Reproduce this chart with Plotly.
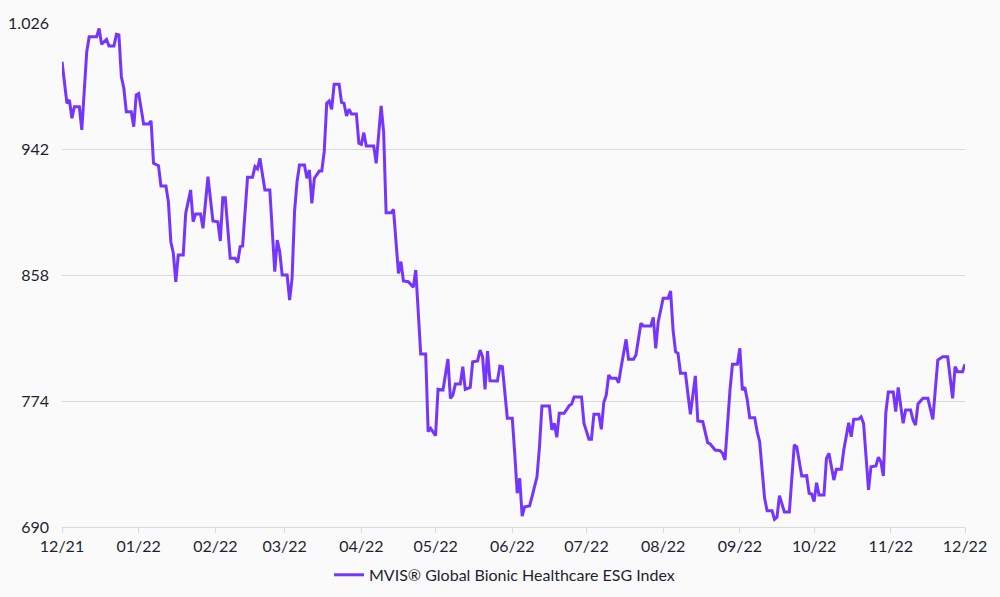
import plotly.graph_objects as go

dates = [
    "2021-12-01", "2021-12-03", "2021-12-04", "2021-12-05", "2021-12-06", "2021-12-08", "2021-12-09",
    "2021-12-11", "2021-12-12", "2021-12-15", "2021-12-16", "2021-12-17", "2021-12-19", "2021-12-20",
    "2021-12-22", "2021-12-23", "2021-12-24", "2021-12-25", "2021-12-26", "2021-12-27", "2021-12-29",
    "2021-12-30", "2021-12-31", "2022-01-01", "2022-01-03", "2022-01-05", "2022-01-06", "2022-01-07",
    "2022-01-09", "2022-01-10", "2022-01-12", "2022-01-13", "2022-01-14", "2022-01-15", "2022-01-16",
    "2022-01-17", "2022-01-19", "2022-01-20", "2022-01-22", "2022-01-23", "2022-01-24", "2022-01-26",
    "2022-01-27", "2022-01-29", "2022-01-31", "2022-02-02", "2022-02-03", "2022-02-04", "2022-02-05",
    "2022-02-07", "2022-02-09", "2022-02-10", "2022-02-11", "2022-02-12", "2022-02-14", "2022-02-16",
    "2022-02-17", "2022-02-18", "2022-02-19", "2022-02-21", "2022-02-23", "2022-02-25", "2022-02-26",
    "2022-02-27", "2022-02-28", "2022-03-02", "2022-03-03", "2022-03-04", "2022-03-05", "2022-03-06",
    "2022-03-07", "2022-03-09", "2022-03-10", "2022-03-11", "2022-03-12", "2022-03-13", "2022-03-15",
    "2022-03-16", "2022-03-17", "2022-03-18", "2022-03-19", "2022-03-20", "2022-03-21", "2022-03-23",
    "2022-03-24", "2022-03-25", "2022-03-26", "2022-03-27", "2022-03-28", "2022-03-30", "2022-03-31",
    "2022-04-01", "2022-04-02", "2022-04-03", "2022-04-06", "2022-04-07", "2022-04-09", "2022-04-10",
    "2022-04-11", "2022-04-13", "2022-04-14", "2022-04-16", "2022-04-17", "2022-04-18", "2022-04-20",
    "2022-04-22", "2022-04-23", "2022-04-24", "2022-04-25", "2022-04-27", "2022-04-28", "2022-04-29",
    "2022-05-01", "2022-05-02", "2022-05-04", "2022-05-06", "2022-05-07", "2022-05-08", "2022-05-09",
    "2022-05-11", "2022-05-12", "2022-05-13", "2022-05-15", "2022-05-16", "2022-05-18", "2022-05-19",
    "2022-05-20", "2022-05-21", "2022-05-22", "2022-05-23", "2022-05-26", "2022-05-27", "2022-05-28",
    "2022-05-30", "2022-06-01", "2022-06-02", "2022-06-03", "2022-06-04", "2022-06-05", "2022-06-06",
    "2022-06-08", "2022-06-09", "2022-06-11", "2022-06-12", "2022-06-13", "2022-06-16", "2022-06-17",
    "2022-06-18", "2022-06-19", "2022-06-20", "2022-06-22", "2022-06-24", "2022-06-25", "2022-06-26",
    "2022-06-29", "2022-06-30", "2022-07-02", "2022-07-03", "2022-07-04", "2022-07-06", "2022-07-07",
    "2022-07-08", "2022-07-09", "2022-07-10", "2022-07-11", "2022-07-13", "2022-07-14", "2022-07-15",
    "2022-07-17", "2022-07-18", "2022-07-20", "2022-07-21", "2022-07-23", "2022-07-24", "2022-07-27",
    "2022-07-28", "2022-07-29", "2022-07-30", "2022-08-01", "2022-08-03", "2022-08-04", "2022-08-05",
    "2022-08-06", "2022-08-07", "2022-08-08", "2022-08-10", "2022-08-11", "2022-08-12", "2022-08-14",
    "2022-08-15", "2022-08-17", "2022-08-18", "2022-08-19", "2022-08-20", "2022-08-22", "2022-08-24",
    "2022-08-25", "2022-08-26", "2022-08-27", "2022-08-28", "2022-08-29", "2022-08-31", "2022-09-01",
    "2022-09-02", "2022-09-03", "2022-09-04", "2022-09-05", "2022-09-07", "2022-09-08", "2022-09-09",
    "2022-09-10", "2022-09-11", "2022-09-12", "2022-09-14", "2022-09-15", "2022-09-16", "2022-09-17",
    "2022-09-18", "2022-09-19", "2022-09-21", "2022-09-22", "2022-09-23", "2022-09-24", "2022-09-26",
    "2022-09-28", "2022-09-29", "2022-09-30", "2022-10-01", "2022-10-02", "2022-10-03", "2022-10-05",
    "2022-10-06", "2022-10-07", "2022-10-09", "2022-10-10", "2022-10-12", "2022-10-13", "2022-10-15",
    "2022-10-16", "2022-10-17", "2022-10-19", "2022-10-20", "2022-10-21", "2022-10-22", "2022-10-23",
    "2022-10-24", "2022-10-26", "2022-10-27", "2022-10-28", "2022-10-29", "2022-10-30", "2022-10-31",
    "2022-11-02", "2022-11-03", "2022-11-04", "2022-11-06", "2022-11-07", "2022-11-09", "2022-11-10",
    "2022-11-11", "2022-11-12", "2022-11-14", "2022-11-16", "2022-11-18", "2022-11-20", "2022-11-22",
    "2022-11-24", "2022-11-26", "2022-11-27", "2022-11-28", "2022-11-30", "2022-12-01",
]

values = [
    1000.2, 972.5, 974.7, 962.5, 970.2, 970.2, 954.7,
    1006.9, 1016.9, 1016.9, 1022.4, 1011.8, 1015.1, 1010.7,
    1010.7, 1018.4, 1018.0, 990.2, 982.5, 966.9, 966.9,
    956.9, 978.0, 978.9, 958.7, 958.7, 960.7, 932.5,
    930.9, 917.3, 917.3, 906.9, 880.2, 872.5, 853.5,
    871.3, 871.3, 899.1, 914.7, 893.5, 898.7, 898.7,
    889.1, 923.5, 894.0, 893.5, 880.7, 909.5, 909.5,
    869.1, 869.1, 866.2, 876.9, 877.3, 923.1, 923.1,
    930.2, 928.7, 935.8, 914.7, 914.7, 860.2, 881.3,
    873.5, 858.0, 858.0, 841.3, 855.8, 900.2, 920.2,
    931.3, 931.3, 922.5, 928.0, 905.8, 922.5, 927.3,
    927.3, 940.2, 972.5, 974.0, 968.5, 985.1, 985.1,
    973.1, 972.5, 964.0, 968.5, 965.3, 965.3, 945.8,
    945.1, 952.9, 944.0, 944.0, 932.5, 970.7, 953.5,
    899.5, 899.5, 901.8, 859.1, 866.9, 854.0, 853.5,
    849.8, 861.3, 832.5, 805.3, 805.3, 753.5, 755.8,
    750.9, 781.8, 781.3, 802.0, 775.8, 778.0, 785.3,
    785.3, 796.9, 781.8, 783.1, 800.2, 800.7, 808.0,
    803.5, 781.8, 807.3, 787.5, 787.3, 797.3, 796.9,
    762.5, 762.5, 739.1, 712.5, 722.5, 697.3, 703.5,
    704.0, 710.2, 723.5, 743.5, 770.7, 770.7, 754.7,
    759.1, 749.8, 765.8, 765.8, 770.9, 772.0, 776.7,
    776.7, 759.1, 748.5, 748.5, 765.1, 765.1, 755.1,
    772.9, 778.0, 791.3, 789.1, 789.1, 786.2, 796.5,
    815.1, 801.8, 801.8, 804.7, 825.8, 824.0, 824.0,
    829.8, 809.1, 826.9, 842.5, 842.5, 847.3, 821.3,
    806.9, 805.8, 792.5, 792.5, 776.9, 765.1, 790.7,
    760.7, 760.2, 752.0, 746.2, 745.3, 741.3, 740.9,
    739.1, 734.7, 761.3, 781.3, 798.5, 798.5, 809.1,
    781.3, 783.1, 774.7, 762.9, 762.9, 753.5, 746.9,
    728.0, 709.1, 700.9, 700.9, 695.1, 696.5, 710.9,
    704.7, 700.0, 700.0, 721.3, 744.7, 743.5, 724.0,
    724.2, 712.5, 712.0, 706.9, 719.5, 711.3, 711.3,
    735.8, 739.1, 721.3, 728.5, 728.5, 741.3, 759.5,
    750.2, 761.8, 762.0, 763.5, 759.1, 739.1, 714.7,
    730.2, 730.7, 736.5, 733.5, 724.0, 766.2, 780.0,
    780.0, 766.9, 783.1, 759.1, 768.0, 768.0, 761.3,
    758.0, 772.0, 775.8, 775.8, 761.8, 801.3, 803.5,
    803.5, 775.8, 796.9, 793.5, 793.5, 798.5,
]

series_name = "MVIS® Global Bionic Healthcare ESG Index"
y_ticks = [690, 774, 858, 942, 1026]
y_tick_labels = ["690", "774", "858", "942", "1.026"]
x_ticks = ["2021-12-01", "2022-01-01", "2022-02-01", "2022-03-01", "2022-04-01", "2022-05-01",
           "2022-06-01", "2022-07-01", "2022-08-01", "2022-09-01", "2022-10-01", "2022-11-01",
           "2022-12-01"]
x_tick_labels = ["12/21", "01/22", "02/22", "03/22", "04/22", "05/22", "06/22", "07/22",
                 "08/22", "09/22", "10/22", "11/22", "12/22"]

text_color = "#1f1f33"
grid_color = "#d9d9d9"
line_color = "#7535FF"
bg = "#fafafa"
font_family = "Lato, 'Open Sans', sans-serif"

fig = go.Figure()
fig.add_trace(go.Scatter(
    x=dates, y=values, mode="lines", name=series_name,
    line=dict(color=line_color, width=3), showlegend=True,
))

fig.update_layout(
    width=1000, height=597,
    autosize=False,
    margin=dict(l=62, r=35, t=23, b=70, pad=0, autoexpand=False),
    paper_bgcolor=bg, plot_bgcolor=bg,
    font=dict(family=font_family, size=16, color=text_color),
    showlegend=True,
    legend=dict(orientation="h", x=0.49, xanchor="center", y=-0.095, yanchor="middle",
                itemwidth=30,
                font=dict(size=16, color=text_color), bgcolor="rgba(0,0,0,0)"),
    xaxis=dict(
        type="date", range=["2021-12-01", "2022-12-01"],
        tickvals=x_ticks, ticktext=x_tick_labels,
        showgrid=False, zeroline=False, automargin=False,
        showline=True, linecolor=grid_color, linewidth=1,
        ticks="outside", ticklen=5, tickcolor=grid_color,
        tickfont=dict(size=16, color=text_color),
    ),
    yaxis=dict(
        range=[690, 1026], tickvals=y_ticks, ticktext=y_tick_labels,
        showgrid=True, gridcolor=grid_color, gridwidth=1,
        zeroline=False, showline=False, ticks="", automargin=False,
        ticklabelstandoff=12,
        tickfont=dict(size=16, color=text_color),
    ),
)

fig.write_html(
    "out.html",
    config={"responsive": False, "displayModeBar": False},
    post_script="document.body.style.margin='0';document.body.style.background='#fafafa';",
)
